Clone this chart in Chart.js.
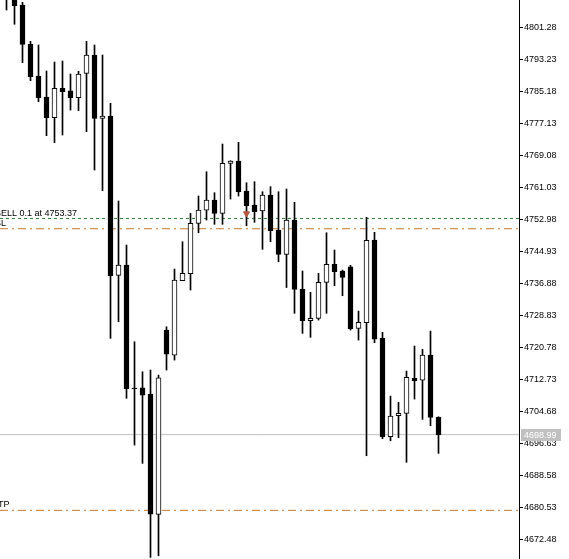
<!DOCTYPE html>
<html>
<head>
<meta charset="utf-8">
<script src="https://cdn.jsdelivr.net/npm/chart.js@4.4.0/dist/chart.umd.min.js"></script>
<style>
  html, body { margin: 0; padding: 0; background: #fff; }
  #wrap { width: 569px; height: 559px; position: relative; }
</style>
</head>
<body>
<div id="wrap"><canvas id="myChart"></canvas></div>
<script>
// candle data (index = bar number from the left)
const opens  = [4812.00, 4811.00, 4807.06, 4797.17, 4789.20, 4783.92, 4778.71, 4786.10, 4785.50, 4783.74,
                4789.88, 4794.48, 4778.56, 4779.14, 4739.06, 4741.65, 4710.70, 4710.78, 4709.19, 4678.92,
                4725.29, 4719.00, 4737.70, 4739.46, 4752.14, 4755.48, 4758.00, 4754.65, 4767.23, 4767.81,
                4760.27, 4756.74, 4755.24, 4759.26, 4750.45, 4744.34, 4752.97, 4735.53, 4727.63, 4728.24,
                4737.30, 4741.83, 4740.14, 4741.22, 4725.72, 4727.13, 4747.94, 4723.21, 4698.45, 4703.73,
                4704.34, 4713.14, 4712.71, 4719.00, 4703.33];
const highs  = [4814.00, 4813.00, 4807.74, 4797.93, 4797.00, 4790.46, 4792.72, 4792.97, 4789.70, 4790.38,
                4797.93, 4797.00, 4794.48, 4782.33, 4757.75, 4746.68, 4722.35, 4714.80, 4715.23, 4713.97,
                4726.12, 4740.64, 4747.51, 4754.65, 4759.01, 4765.12, 4759.84, 4772.09, 4767.90, 4772.52,
                4762.36, 4762.61, 4760.09, 4761.35, 4760.09, 4760.77, 4757.42, 4740.14, 4734.78, 4739.56,
                4749.77, 4745.42, 4740.39, 4741.57, 4730.07, 4753.65, 4749.87, 4724.72, 4708.69, 4707.10,
                4714.98, 4721.27, 4720.44, 4725.04, 4703.48];
const lows   = [4805.80, 4802.21, 4792.55, 4788.02, 4782.73, 4774.18, 4772.42, 4774.36, 4780.64, 4780.47,
                4775.19, 4765.55, 4760.34, 4723.21, 4727.38, 4708.11, 4696.36, 4691.76, 4668.10, 4668.51,
                4715.23, 4717.74, 4737.70, 4735.36, 4749.77, 4752.97, 4751.89, 4751.89, 4758.25, 4759.01,
                4751.54, 4752.39, 4745.60, 4747.51, 4742.48, 4735.99, 4729.50, 4724.46, 4723.46, 4727.81,
                4729.50, 4736.44, 4733.92, 4725.29, 4722.78, 4693.67, 4722.10, 4697.95, 4697.44, 4698.20,
                4692.01, 4707.93, 4702.82, 4701.21, 4694.27];
const closes = [4809.50, 4806.89, 4797.17, 4789.02, 4783.74, 4778.71, 4786.10, 4785.25, 4783.74, 4789.70,
                4794.48, 4778.56, 4779.14, 4738.96, 4741.65, 4710.53, 4710.55, 4708.94, 4679.00, 4713.29,
                4719.25, 4737.87, 4739.56, 4752.14, 4755.48, 4758.00, 4754.65, 4767.23, 4767.81, 4760.09,
                4756.57, 4755.06, 4759.26, 4750.28, 4744.34, 4752.97, 4735.53, 4727.63, 4728.24, 4737.30,
                4741.83, 4739.96, 4738.55, 4725.55, 4727.23, 4747.86, 4723.03, 4698.45, 4703.66, 4704.34,
                4713.39, 4712.54, 4719.00, 4703.33, 4698.99];

const tickValues = [4801.28, 4793.23, 4785.18, 4777.13, 4769.08, 4761.03, 4752.98, 4744.93, 4736.88,
                    4728.83, 4720.78, 4712.73, 4704.68, 4696.63, 4688.58, 4680.53, 4672.48];

const sellPrice = 4753.37;
const slPrice = 4750.78;
const tpPrice = 4679.94;
const bidPrice = 4698.99;
const sellBar = 30;
const sellArrow = 4754.6;

const yMax = 4808.32;
const yMin = 4667.70;
const xMin = -0.8125;
const xMax = 64.0625;

const FONT = '"Liberation Sans", Arial, sans-serif';

let wicks = [];
let bodies = [];
let bodyColors = [];
for (let i = 0; i < opens.length; i++) {
    wicks.push({x: i, y: [lows[i], highs[i]]});
    bodies.push({x: i, y: [Math.min(opens[i], closes[i]), Math.max(opens[i], closes[i])]});
    bodyColors.push(closes[i] > opens[i] ? '#ffffff' : '#000000');
}

function hline(level) {
    return [{x: xMin, y: level}, {x: xMax, y: level}];
}

// text labels on the chart (order line captions, bid box)
const labelsPlugin = {
    id: 'tradeLabels',
    afterDraw(chart) {
        const ctx = chart.ctx;
        const y = chart.scales.y;
        ctx.save();
        ctx.font = '9px ' + FONT;
        ctx.fillStyle = '#000';
        ctx.textBaseline = 'alphabetic';
        ctx.textAlign = 'left';
        ctx.fillText('SELL 0.1 at ' + sellPrice.toFixed(2), -5, y.getPixelForValue(sellPrice) - 2.5);
        ctx.fillText('SL', -5, y.getPixelForValue(slPrice) - 3);
        ctx.fillText('TP', -2, y.getPixelForValue(tpPrice) - 3);
        // bid price box
        const by = y.getPixelForValue(bidPrice);
        ctx.fillStyle = '#c0c0c0';
        ctx.fillRect(521, Math.round(by) - 6, 40, 12);
        ctx.fillStyle = '#fff';
        ctx.textBaseline = 'middle';
        ctx.fillText(bidPrice.toFixed(2), 524, Math.round(by) + 0.5);
        ctx.restore();
    }
};

const ctx = document.getElementById('myChart').getContext('2d');
const chart = new Chart(ctx, {
    type: 'bar',
    data: {
        datasets: [
            {
                type: 'line', label: 'bid', data: hline(bidPrice),
                borderColor: '#c0c0c0', borderWidth: 1, pointRadius: 0, order: 5
            },
            {
                type: 'line', label: 'tp', data: hline(tpPrice),
                borderColor: '#c8782a', borderWidth: 1, borderDash: [8, 4, 2, 4], pointRadius: 0, order: 5
            },
            {
                type: 'line', label: 'sl', data: hline(slPrice),
                borderColor: '#c8782a', borderWidth: 1, borderDash: [8, 4, 2, 4], pointRadius: 0, order: 5
            },
            {
                type: 'line', label: 'sell', data: hline(sellPrice),
                borderColor: '#2f7a3c', borderWidth: 1, borderDash: [3, 3], pointRadius: 0, order: 5
            },
            {
                label: 'wicks', data: wicks,
                backgroundColor: '#000', barThickness: 1, grouped: false, order: 2
            },
            {
                label: 'bodies', data: bodies,
                backgroundColor: bodyColors, borderColor: '#000', borderWidth: 1,
                borderSkipped: false, barThickness: 5, grouped: false, order: 1
            },
            {
                type: 'scatter', label: 'arrow', data: [{x: sellBar, y: sellArrow}],
                pointStyle: 'triangle', rotation: 180, pointRadius: 3.5,
                backgroundColor: '#b9553c', borderColor: '#b9553c', borderWidth: 1, order: 0
            }
        ]
    },
    options: {
        responsive: true,
        maintainAspectRatio: false,
        animation: false,
        events: [],
        layout: {padding: 0, autoPadding: false},
        plugins: {
            legend: {display: false},
            tooltip: {enabled: false},
            title: {display: false}
        },
        scales: {
            x: {
                type: 'linear',
                min: xMin,
                max: xMax,
                display: false,
                offset: false
            },
            y: {
                position: 'right',
                min: yMin,
                max: yMax,
                afterBuildTicks(scale) {
                    scale.ticks = tickValues.map(v => ({value: v}));
                },
                afterFit(scale) {
                    scale.width = 50;
                    scale.paddingTop = 0;
                    scale.paddingBottom = 0;
                },
                border: {display: true, color: '#000', width: 1},
                grid: {
                    drawOnChartArea: false,
                    drawTicks: true,
                    tickLength: 4,
                    color: '#000'
                },
                ticks: {
                    padding: 1,
                    color: '#000',
                    font: {family: FONT, size: 9},
                    callback: v => Number(v).toFixed(2)
                }
            }
        }
    },
    plugins: [labelsPlugin]
});
</script>
</body>
</html>
